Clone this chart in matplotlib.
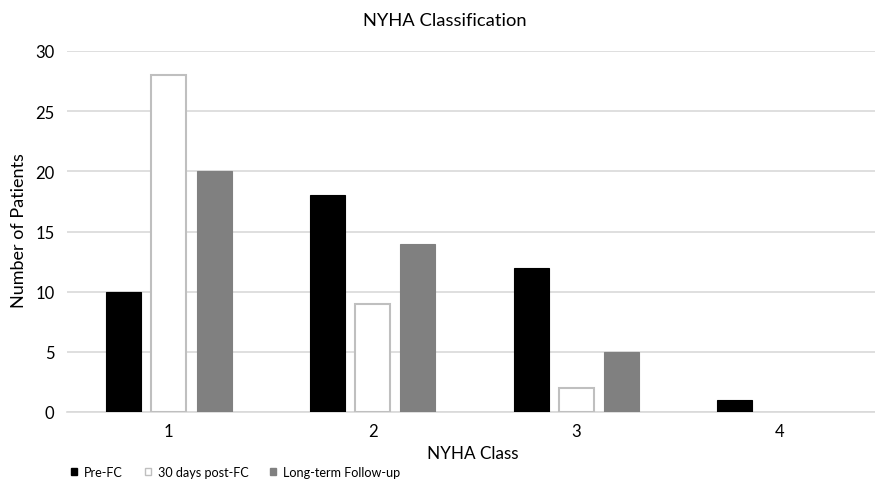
import matplotlib
matplotlib.use("Agg")
import matplotlib.pyplot as plt
import numpy as np
from matplotlib.patches import Patch

categories = ["1", "2", "3", "4"]
series_names = ["Pre-FC", "30 days post-FC", "Long-term Follow-up"]
pre_fc = [10, 18, 12, 1]
post_30 = [28, 9, 2, 0]
long_term = [20, 14, 5, 0]
y_ticks = [0, 5, 10, 15, 20, 25, 30]

plt.rcParams['font.family'] = ['Lato', 'DejaVu Sans']

W, H = 875, 481
fig = plt.figure(figsize=(W / 100, H / 100), dpi=100)
left, right, top, bottom = 67, 875, 52, 413
ax = fig.add_axes([left / W, 1 - bottom / H, (right - left) / W, (bottom - top) / H])

x = np.arange(1, len(categories) + 1)
bw = 0.172
off = 0.222


def lw(vals, w):
    return [w if v > 0 else 0 for v in vals]


ax.bar(x - off, pre_fc, bw, color="#000000", edgecolor="#000000", linewidth=lw(pre_fc, 0.8), zorder=3)
ax.bar(x, post_30, bw, color="#ffffff", edgecolor="#bfbfbf", linewidth=lw(post_30, 1.5), zorder=3)
ax.bar(x + off, long_term, bw, color="#808080", edgecolor="#808080", linewidth=lw(long_term, 0.8), zorder=3)

ax.set_xlim(0.5, 0.5 + (right - left) / 203.7)
ax.set_ylim(0, 30)
ax.set_yticks(y_ticks)
ax.set_xticks(x)
ax.set_xticklabels(categories)
ax.tick_params(axis="both", length=0, labelsize=12, colors="#000000")
ax.tick_params(axis="y", pad=9)
ax.tick_params(axis="x", pad=8)
ax.yaxis.grid(True, color="#d9d9d9", linewidth=1.2, zorder=0)
for s in ["top", "right", "left"]:
    ax.spines[s].set_visible(False)
ax.spines["bottom"].set_color("#d9d9d9")
ax.spines["bottom"].set_linewidth(1.2)
ax.set_axisbelow(True)

fig.text(445 / W, 1 - 21 / H, "NYHA Classification", ha="center", va="center", fontsize=13.2, color="#000000")
fig.text(473 / W, 1 - 454 / H, "NYHA Class", ha="center", va="center", fontsize=12.3, color="#000000")
fig.text(19 / W, 1 - 231 / H, "Number of Patients", ha="center", va="center", rotation=90, fontsize=13, color="#000000")

handles = [
    Patch(facecolor="#000000", edgecolor="#000000"),
    Patch(facecolor="#ffffff", edgecolor="#bfbfbf", linewidth=1.0),
    Patch(facecolor="#808080", edgecolor="#808080"),
]
fig.legend(handles, series_names, loc="center left", bbox_to_anchor=(71 / W, 1 - 473 / H),
           ncol=3, frameon=False, fontsize=9.1, handlelength=0.5, handleheight=0.5,
           handletextpad=0.55, columnspacing=1.7, borderaxespad=0, borderpad=0)

fig.savefig("out.png", dpi=100)
